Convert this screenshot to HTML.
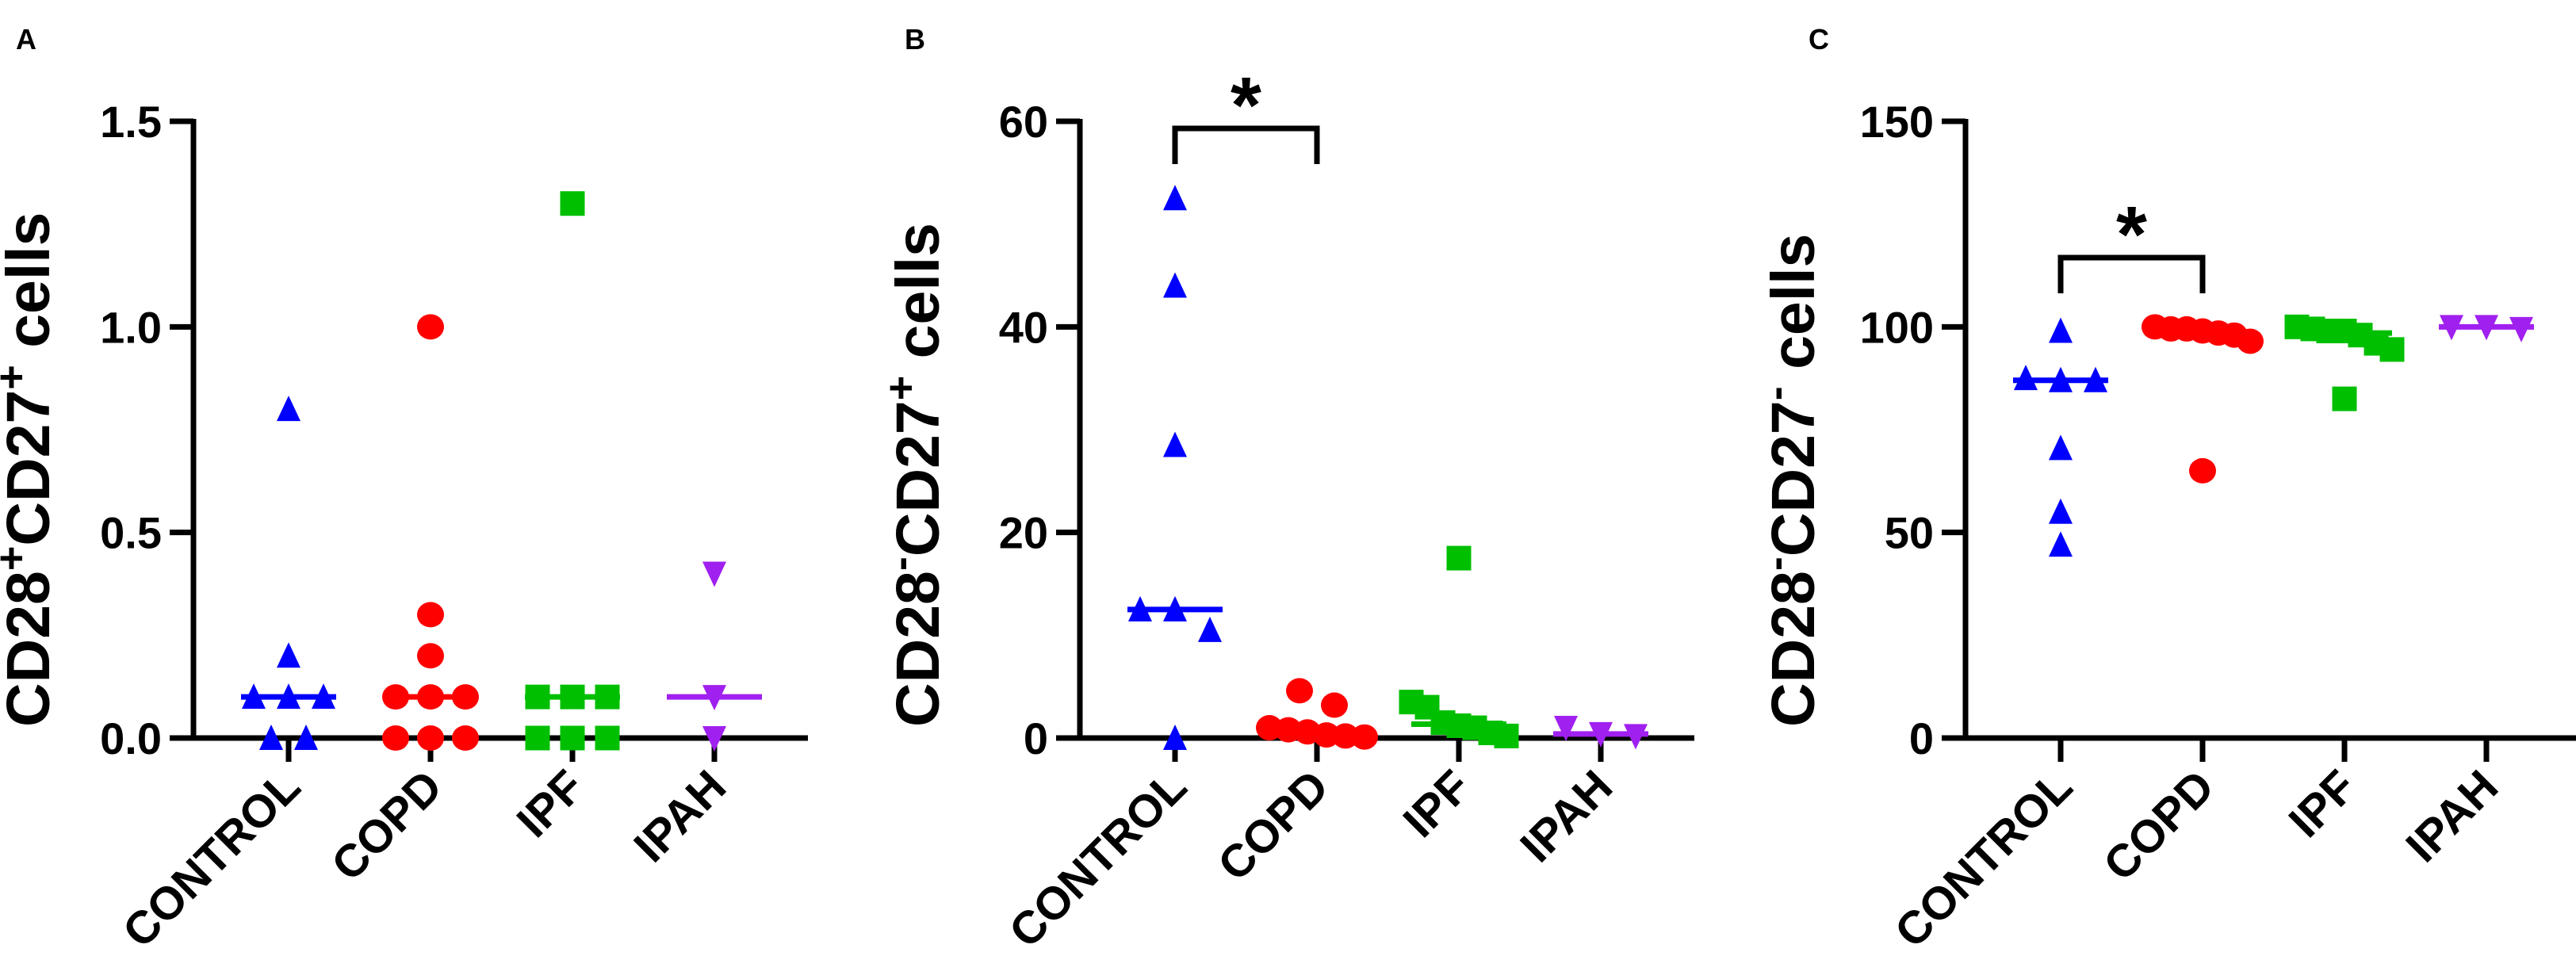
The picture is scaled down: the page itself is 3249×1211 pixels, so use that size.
<!DOCTYPE html>
<html><head><meta charset="utf-8"><style>
html,body{margin:0;padding:0;background:#fff;}
svg{display:block;font-family:"Liberation Sans",Arial,sans-serif;}
</style></head><body>
<svg id="fig" width="3249" height="1211" viewBox="0 0 3249 1211" xmlns="http://www.w3.org/2000/svg"></svg>
<script>
const categories = ["CONTROL","COPD","IPF","IPAH"];
const colors = ["#0000ff","#ff0000","#00bf00","#a020f0"];
const shapes = ["tri","circle","square","itri"];

// Panel A values
const aControl = [0.8,0.2,0.1,0.1,0.1,0.0,0.0];
const aCopd = [1.0,0.3,0.2,0.1,0.1,0.1,0.0,0.0,0.0];
const aIpf = [1.3,0.1,0.1,0.1,0.0,0.0,0.0];
const aIpah = [0.4,0.1,0.0];
const aTicks = [0,0.5,1.0,1.5];
const aTickLabels = ["0.0","0.5","1.0","1.5"];

// Panel B values
const bControl = [52.5,44,28.5,12.5,12.5,10.5,0];
const bCopd = [4.6,3.2,1.0,0.8,0.6,0.3,0.2,0.1];
const bIpf = [17.5,3.5,3.0,1.5,1.2,1.0,0.5,0.2];
const bIpah = [0.2,1.0,0.4];
const bTicks = [0,20,40,60];
const bTickLabels = ["0","20","40","60"];

// Panel C values
const cControl = [99,87.5,87,87,70.5,55,47];
const cCopd = [100,99.5,99.5,99,98.5,98,96.5,65];
const cIpf = [100,99.5,99,99,98,96,94.5,82.5];
const cIpah = [100,100,99.5];
const cTicks = [0,50,100,150];
const cTickLabels = ["0","50","100","150"];

const NS = "http://www.w3.org/2000/svg";
const svg = document.getElementById("fig");
function mk(tag, attrs, parent){
  const e = document.createElementNS(NS, tag);
  for (const k in attrs) e.setAttribute(k, attrs[k]);
  (parent||svg).appendChild(e);
  return e;
}

const panels = [
  {letter:"A", lx:20, ax:244, max:1.5, series:[aControl,aCopd,aIpf,aIpah], ticks:aTicks, tl:aTickLabels,
   title:[["CD28",""],["+","sup"],["CD27",""],["+","sup"],[" cells",""]], tx:62, sig:null},
  {letter:"B", lx:1141, ax:1362, max:60, series:[bControl,bCopd,bIpf,bIpah], ticks:bTicks, tl:bTickLabels,
   title:[["CD28",""],["-","sup"],["CD27",""],["+","sup"],[" cells",""]], tx:1184, sig:{top:162, bot:207}},
  {letter:"C", lx:2281, ax:2479, max:150, series:[cControl,cCopd,cIpf,cIpah], ticks:cTicks, tl:cTickLabels,
   title:[["CD28",""],["-","sup"],["CD27",""],["-","sup"],[" cells",""]], tx:2288, sig:{top:325, bot:370}}
];

const Y0 = 931, YTOP = 153, CATOFF = 120, CATSTEP = 179;

function median(arr){
  const s = arr.slice().sort((a,b)=>a-b); const n = s.length;
  return n%2 ? s[(n-1)/2] : (s[n/2-1]+s[n/2])/2;
}

function drawMarker(g, shape, cx, cy, col){
  let el;
  if (shape==="circle") el = mk("ellipse",{cx:cx,cy:cy,rx:17,ry:16,fill:col},g);
  else if (shape==="square") el = mk("rect",{x:cx-15.5,y:cy-15.5,width:31,height:31,fill:col},g);
  else if (shape==="tri") el = mk("polygon",{points:`${cx-15},${cy+15} ${cx+15},${cy+15} ${cx},${cy-17}`,fill:col},g);
  else el = mk("polygon",{points:`${cx-15},${cy-15} ${cx+15},${cy-15} ${cx},${cy+17}`,fill:col},g);
  return el;
}

panels.forEach((p, pi) => {
  const g = mk("g",{});
  
  
  const yS = v => Y0 - (v / p.max) * (Y0 - YTOP);
  const xS = i => p.ax + CATOFF + i * CATSTEP;

  const lt = mk("text",{x:p.lx,y:62,"font-size":36,"font-weight":"bold",fill:"#000"},g);
  lt.textContent = p.letter;
  
  

  const ya = mk("line",{x1:p.ax,y1:YTOP-3,x2:p.ax,y2:Y0+3,stroke:"#000","stroke-width":7},g);
  
  
  p.ticks.forEach((t, i) => {
    const y = yS(t);
    mk("line",{x1:p.ax-30,y1:y,x2:p.ax,y2:y,stroke:"#000","stroke-width":7},g);
    const tx = mk("text",{x:p.ax-40,y:y+20,"font-size":56,"font-weight":"bold","text-anchor":"end",fill:"#000"},g);
    tx.textContent = p.tl[i];
    
    
  });
  const xa = mk("line",{x1:p.ax-30,y1:Y0,x2:p.ax+775,y2:Y0,stroke:"#000","stroke-width":7},g);
  
  
  categories.forEach((c, i) => {
    const x = xS(i);
    mk("line",{x1:x,y1:Y0,x2:x,y2:Y0+30,stroke:"#000","stroke-width":7},g);
    const t = mk("text",{x:0,y:0,"font-size":58,"font-weight":"bold","text-anchor":"end",fill:"#000",
      transform:`translate(${x+18},${Y0+65}) rotate(-45)`},g);
    t.textContent = c;
    
    
  });
  const tt = mk("text",{x:0,y:0,"font-size":77,"font-weight":"bold",fill:"#000",
    transform:`translate(${p.tx},917) rotate(-90)`},g);
  p.title.forEach(([s, k]) => {
    const ts = mk("tspan", k==="sup" ? {"font-size":54,dy:-30} : {"font-size":77,dy:0}, tt);
    ts.textContent = s;
    if (k==="sup") { ts.setAttribute("data-sup","1"); }
  });
  const spans = tt.querySelectorAll("tspan");
  spans.forEach((s, i) => { if (i>0 && spans[i-1].getAttribute("data-sup")) s.setAttribute("dy", 30); });
  
  

  p.series.forEach((vals, si) => {
    const sg = mk("g",{},g);
    
    
    const cx = xS(si);
    const med = median(vals);
    const ml = mk("line",{x1:cx-60,y1:yS(med),x2:cx+60,y2:yS(med),stroke:colors[si],"stroke-width":7},sg);
    
    
    const pts = vals.map(v => ({v:v, y:yS(v)})).sort((a,b)=>a.y-b.y);
    const rows = [];
    pts.forEach(pt => {
      const last = rows[rows.length-1];
      if (last && pt.y - last[last.length-1].y < 28) last.push(pt); else rows.push([pt]);
    });
    rows.forEach(row => {
      const n = row.length;
      const step = n>1 ? Math.min(44, 120/(n-1)) : 0;
      row.forEach((pt, k) => {
        const x = cx + (k - (n-1)/2) * step;
        const m = drawMarker(sg, shapes[si], x, pt.y, colors[si]);
        
        
      });
    });
  });

  if (p.sig) {
    const x1 = xS(0), x2 = xS(1);
    const br = mk("polyline",{points:`${x1},${p.sig.bot} ${x1},${p.sig.top} ${x2},${p.sig.top} ${x2},${p.sig.bot}`,
      fill:"none",stroke:"#000","stroke-width":7},g);
    
    
    const st = mk("text",{x:(x1+x2)/2,y:p.sig.top+5,"font-size":100,"font-weight":"bold","text-anchor":"middle",fill:"#000"},g);
    st.textContent = "*";
    
    
  }
});
</script>
</body></html>
